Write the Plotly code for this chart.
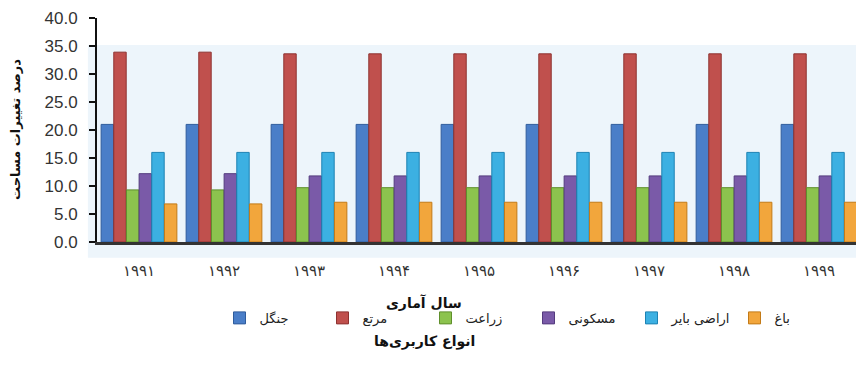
import plotly.graph_objects as go

# Statistical years (Persian digits)
years = ["۱۹۹۱", "۱۹۹۲", "۱۹۹۳", "۱۹۹۴", "۱۹۹۵", "۱۹۹۶", "۱۹۹۷", "۱۹۹۸", "۱۹۹۹"]

# Land-use categories and share of area (%)
forest = [21.0, 21.0, 21.0, 21.0, 21.0, 21.0, 21.0, 21.0, 21.0]          # جنگل
rangeland = [33.9, 33.9, 33.6, 33.6, 33.6, 33.6, 33.6, 33.6, 33.6]       # مرتع
farming = [9.3, 9.3, 9.7, 9.7, 9.7, 9.7, 9.7, 9.7, 9.7]                  # زراعت
residential = [12.2, 12.2, 11.8, 11.8, 11.8, 11.8, 11.8, 11.8, 11.8]     # مسکونی
barren = [16.0, 16.0, 16.0, 16.0, 16.0, 16.0, 16.0, 16.0, 16.0]          # اراضی بایر
orchard = [6.8, 6.8, 7.1, 7.1, 7.1, 7.1, 7.1, 7.1, 7.1]                  # باغ

series = [
    ("جنگل", forest, "#4a7ec8", "#2f5c9c"),
    ("مرتع", rangeland, "#c0504d", "#8e3230"),
    ("زراعت", farming, "#8cc34e", "#5f8f2c"),
    ("مسکونی", residential, "#7a5aa8", "#543b7e"),
    ("اراضی بایر", barren, "#3cb0e2", "#1d82b3"),
    ("باغ", orchard, "#f2a63c", "#c37a17"),
]

fig = go.Figure()
for name, vals, color, edge in series:
    fig.add_trace(go.Bar(
        x=years, y=vals, name=name,
        marker=dict(color=color, line=dict(color=edge, width=1)),
    ))

# light back wall and floor behind the bars
fig.add_shape(type="rect", xref="paper", yref="paper",
              x0=-0.012, x1=1.0, y0=-0.07, y1=0.879,
              fillcolor="#edf5fb", line=dict(width=0), layer="below")

font_fa = "DejaVu Sans, Noto Sans, sans-serif"

fig.update_layout(
    width=856, height=371,
    margin=dict(l=97, r=0, t=18, b=129),
    paper_bgcolor="white", plot_bgcolor="rgba(0,0,0,0)",
    barmode="group", bargap=0.106, bargroupgap=0.02,
    showlegend=True,
    legend=dict(
        orientation="h", x=0.1614, xanchor="left", y=-0.339, yanchor="middle",
        font=dict(family=font_fa, size=13, color="#222222"),
        bgcolor="rgba(0,0,0,0)", entrywidth=58, traceorder="normal",
    ),
    xaxis=dict(
        range=[-0.494, 8.435], showgrid=False, zeroline=False,
        showline=True, linecolor="#333333", linewidth=3,
        ticks="", ticklabelstandoff=13,
        tickfont=dict(family=font_fa, size=15, color="#333333"),
    ),
    yaxis=dict(
        range=[0, 40], dtick=5, tickformat=".1f", showgrid=False, zeroline=False,
        showline=True, linecolor="#111111", linewidth=2,
        ticks="outside", ticklen=6, tickcolor="#111111", tickwidth=2,
        ticklabelstandoff=8,
        tickfont=dict(family="Liberation Sans, Arial, sans-serif", size=17, color="#333333"),
    ),
    annotations=[
        dict(text="<b>درصد تغییرات مساحت</b>", xref="paper", yref="paper",
             x=-0.108, y=0.5, xanchor="center", yanchor="middle",
             textangle=-90, showarrow=False,
             font=dict(family=font_fa, size=13, color="#111111")),
        dict(text="<b>سال آماری</b>", xref="paper", yref="paper",
             x=0.431, y=-0.268, xanchor="center", yanchor="middle", showarrow=False,
             font=dict(family=font_fa, size=14, color="#111111")),
        dict(text="<b>انواع کاربری‌ها</b>", xref="paper", yref="paper",
             x=0.431, y=-0.446, xanchor="center", yanchor="middle", showarrow=False,
             font=dict(family=font_fa, size=14, color="#111111")),
    ],
)

fig.write_html("out.html")
